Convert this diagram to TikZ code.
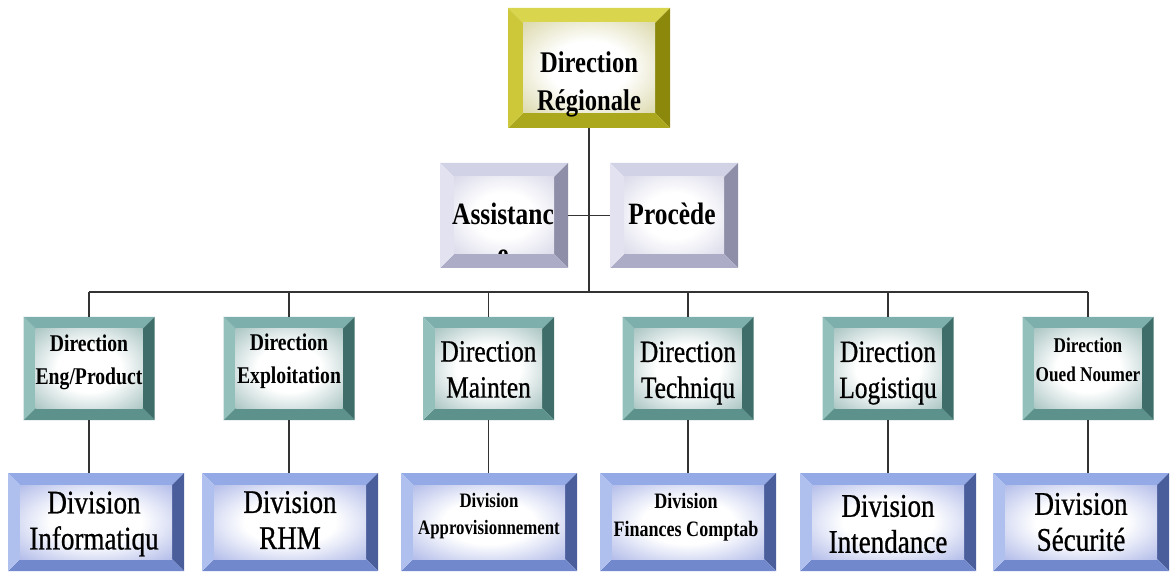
\documentclass[tikz,border=0pt]{standalone}
\usepackage{fontspec}
\newfontfamily\orgfont{Liberation Serif}[FakeStretch=0.82]
\newfontfamily\orgfontmid{Liberation Serif}[FakeStretch=0.82, FakeBold=0.7]

% bevel colours
\definecolor{yTop}{HTML}{D9D64E}\definecolor{yLeft}{HTML}{CCC83A}
\definecolor{yRight}{HTML}{8C880C}\definecolor{yBot}{HTML}{ABA81E}
\definecolor{yFace}{HTML}{C6C27A}
\definecolor{lTop}{HTML}{D2D2E6}\definecolor{lLeft}{HTML}{E2E2F0}
\definecolor{lRight}{HTML}{8E8EA8}\definecolor{lBot}{HTML}{ACACC6}
\definecolor{lFace}{HTML}{C4C4DE}
\definecolor{gTop}{HTML}{7DB0AC}\definecolor{gLeft}{HTML}{94C0BC}
\definecolor{gRight}{HTML}{3F6E6A}\definecolor{gBot}{HTML}{5C918C}
\definecolor{gFace}{HTML}{77A3A0}
\definecolor{bTop}{HTML}{93AAE6}\definecolor{bLeft}{HTML}{AFC0EE}
\definecolor{bRight}{HTML}{4B5E9C}\definecolor{bBot}{HTML}{7189CC}
\definecolor{bFace}{HTML}{8494DC}
\definecolor{wire}{HTML}{333333}
\colorlet{facetint}{gFace}

% face wash: white in the middle, tinted toward the corners
\pgfdeclareradialshading[facetint]{facewash}{\pgfpoint{0bp}{0bp}}{%
  color(0bp)=(white); color(15bp)=(white); color(48bp)=(facetint); color(71bp)=(facetint)}

% four bevel trapezoids plus a shaded face, drawn inside the node's path
\newcommand{\bevelfill}[6]{%
  \path (path picture bounding box.north west) coordinate (bvA)
        (path picture bounding box.north east) coordinate (bvB)
        (path picture bounding box.south east) coordinate (bvC)
        (path picture bounding box.south west) coordinate (bvD);
  \path ([shift={(#1,-#1)}]bvA) coordinate (bva)
        ([shift={(-#1,-#1)}]bvB) coordinate (bvb)
        ([shift={(-#1,#1)}]bvC) coordinate (bvc)
        ([shift={(#1,#1)}]bvD) coordinate (bvd);
  \fill[#2] (bvA) -- (bvB) -- (bvb) -- (bva) -- cycle;
  \fill[#4] (bvB) -- (bvC) -- (bvc) -- (bvb) -- cycle;
  \fill[#5] (bvC) -- (bvD) -- (bvd) -- (bvc) -- cycle;
  \fill[#3] (bvD) -- (bvA) -- (bva) -- (bvd) -- cycle;
  \colorlet{facetint}{#6}%
  \shade[shading=facewash] (bva) rectangle (bvc);
}

\begin{document}
\begin{tikzpicture}[x=1pt,y=1pt,
  box/.style={rectangle, inner sep=0pt, outer sep=0pt},
  headbox/.style={box, minimum width=162pt, minimum height=120pt,
    path picture={\bevelfill{15pt}{yTop}{yLeft}{yRight}{yBot}{yFace}}},
  staffbox/.style={box, minimum width=128pt, minimum height=105pt,
    path picture={\bevelfill{14pt}{lTop}{lLeft}{lRight}{lBot}{lFace}}},
  dirbox/.style={box, minimum width=131pt, minimum height=103pt,
    path picture={\bevelfill{12pt}{gTop}{gLeft}{gRight}{gBot}{gFace}}},
  divbox/.style={box, minimum width=176pt, minimum height=98pt,
    path picture={\bevelfill{12pt}{bTop}{bLeft}{bRight}{bBot}{bFace}}},
  lbl/.style={inner sep=0pt, align=center},
  fs/.style 2 args={font=\orgfont\bfseries\fontsize{#1}{#2}\selectfont},
  fr/.style 2 args={font=\orgfontmid\fontsize{#1}{#2}\selectfont},
  conn/.style={draw=wire, line width=1.4pt}
]
\useasboundingbox (0,0) rectangle (1171,-572);

% boxes
\node[headbox] (top) at (589,-68) {};
\node[staffbox] (assist) at (504,-215.5) {};
\node[staffbox] (proc) at (674,-215.5) {};

\node[dirbox] (g1) at (89,-368.5) {};
\node[dirbox] (g2) at (289,-368.5) {};
\node[dirbox] (g3) at (488.5,-368.5) {};
\node[dirbox] (g4) at (688,-368.5) {};
\node[dirbox] (g5) at (888,-368.5) {};
\node[dirbox] (g6) at (1088,-368.5) {};

\node[divbox] (b1) at (96,-522) {};
\node[divbox] (b2) at (290,-522) {};
\node[divbox] (b3) at (489,-522) {};
\node[divbox] (b4) at (688,-522) {};
\node[divbox] (b5) at (888,-522) {};
\node[divbox] (b6) at (1081,-522) {};

% connectors
\coordinate (bus) at (589,-292);
\draw[conn] (top.south) -- (top.south |- bus);
\draw[conn] (assist.east) -- (proc.west);
\draw[conn] (g1.north |- bus) -- (g6.north |- bus);
\foreach \i in {1,...,6} {
  \draw[conn] (g\i.north) -- (g\i.north |- bus);
  \draw[conn] (g\i.south) -- (g\i.south |- b\i.north);
}

% labels
\node[lbl, fs={30}{38}] (t-top) at (589,-84) {Direction\\Régionale};
\node[lbl, fs={31}{38}, anchor=base] (t-assist) at (503,-225) {Assistanc};
\begin{scope}
  \clip ([shift={(14,14)}]assist.south west) rectangle ([shift={(-14,-14)}]assist.north east);
  \node[lbl, fs={31}{38}, anchor=base] (t-assist2) at (503,-265) {e};
\end{scope}
\node[lbl, fs={31}{38}, anchor=base] (t-proc) at (672,-225) {Procède};

\node[lbl, fs={24}{33}] (t-g1) at (89,-362) {Direction\\Eng/Product};
\node[lbl, fs={24}{33}] (t-g2) at (289,-361) {Direction\\Exploitation};
\node[lbl, fr={31}{36}] (t-g3) at (488.5,-369.5) {Direction\\Mainten};
\node[lbl, fr={31}{36}] (t-g4) at (688,-373) {Direction\\Techniqu};
\node[lbl, fr={31}{36}] (t-g5) at (888,-373) {Direction\\Logistiqu};
\node[lbl, fs={21}{29}] (t-g6) at (1088,-360) {Direction\\Oued Noumer};

\node[lbl, fr={33}{36}] (t-b1) at (94,-524) {Division\\Informatiqu};
\node[lbl, fr={33}{36}] (t-b2) at (290,-520) {Division\\RHM};
\node[lbl, fs={20.5}{27}] (t-b3) at (489,-516.5) {Division\\Approvisionnement};
\node[lbl, fs={22}{28}] (t-b4) at (686,-517.5) {Division\\Finances Comptab};
\node[lbl, fr={33}{36}] (t-b5) at (888,-524) {Division\\Intendance};
\node[lbl, fr={33}{36}] (t-b6) at (1081,-522) {Division\\Sécurité};
\end{tikzpicture}
\end{document}
